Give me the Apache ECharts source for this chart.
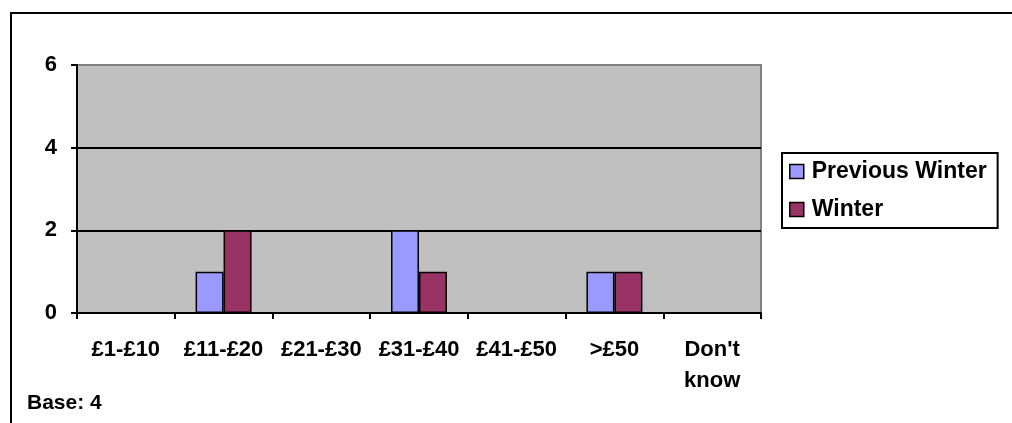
<!DOCTYPE html>
<html>
<head>
<meta charset="utf-8">
<script src="https://cdn.jsdelivr.net/npm/echarts@6/dist/echarts.min.js"></script>
<style>
  html, body { margin: 0; padding: 0; background: #fff; }
  #chart { width: 1012px; height: 423px; }
</style>
</head>
<body>
<div id="chart"></div>
<script>
// Spend bands and respondent counts
const categories = ['£1-£10', '£11-£20', '£21-£30', '£31-£40', '£41-£50', '>£50', "Don't\nknow"];
const previousWinter = [0, 1, 0, 2, 0, 1, 0];
const winter = [0, 2, 0, 1, 0, 1, 0];
const seriesNames = ['Previous Winter', 'Winter'];
const baseNote = 'Base: 4';

const FONT = "'Liberation Sans', Arial, sans-serif";

const chart = echarts.init(document.getElementById('chart'), null, { renderer: 'canvas' });

chart.setOption({
  animation: false,
  backgroundColor: '#ffffff',
  textStyle: { fontFamily: FONT },
  grid: {
    left: 77, top: 65, width: 684, height: 248,
    show: true,
    backgroundColor: '#C0C0C0',
    borderColor: '#808080',
    borderWidth: 2
  },
  legend: {
    orient: 'vertical',
    left: 782, top: 153,
    padding: [7, 11, 7, 7],
    itemGap: 15,
    itemWidth: 14, itemHeight: 14,
    icon: 'rect',
    borderColor: '#000', borderWidth: 2,
    backgroundColor: '#fff',
    itemStyle: { borderColor: '#000', borderWidth: 1.5 },
    textStyle: { fontFamily: FONT, fontWeight: 'bold', fontSize: 23, color: '#000', padding: [0, 0, 0, 3] },
    data: seriesNames
  },
  xAxis: {
    type: 'category',
    data: categories,
    axisLine: { lineStyle: { color: '#000', width: 2 } },
    axisTick: { show: true, length: 6, lineStyle: { color: '#000', width: 2 } },
    axisLabel: {
      color: '#000', fontWeight: 'bold', fontSize: 22, fontFamily: FONT,
      lineHeight: 31, margin: 21, interval: 0
    }
  },
  yAxis: {
    type: 'value',
    min: 0, max: 6, interval: 2,
    axisLine: { show: true, lineStyle: { color: '#000', width: 2 } },
    axisTick: { show: true, length: 6, lineStyle: { color: '#000', width: 2 } },
    axisLabel: { color: '#000', fontWeight: 'bold', fontSize: 22, fontFamily: FONT, margin: 20 },
    splitLine: { show: true, lineStyle: { color: ['#000', '#000', '#000', '#808080'], width: 2 } }
  },
  series: [
    {
      name: seriesNames[0], type: 'bar', data: previousWinter,
      barWidth: 28, barGap: '0%',
      itemStyle: { color: '#9999FF', borderColor: '#000', borderWidth: 1.5 }
    },
    {
      name: seriesNames[1], type: 'bar', data: winter,
      barWidth: 28, barGap: '0%',
      itemStyle: { color: '#993366', borderColor: '#000', borderWidth: 1.5 }
    }
  ],
  graphic: [
    {
      type: 'rect', silent: true, z: 100,
      shape: { x: 11, y: 13, width: 1100, height: 500 },
      style: { fill: 'none', stroke: '#000', lineWidth: 2 }
    },
    {
      type: 'text', left: 27, top: 393, z: 100,
      style: { text: baseNote, font: 'bold 21px ' + FONT, fill: '#000' }
    }
  ]
});
</script>
</body>
</html>
